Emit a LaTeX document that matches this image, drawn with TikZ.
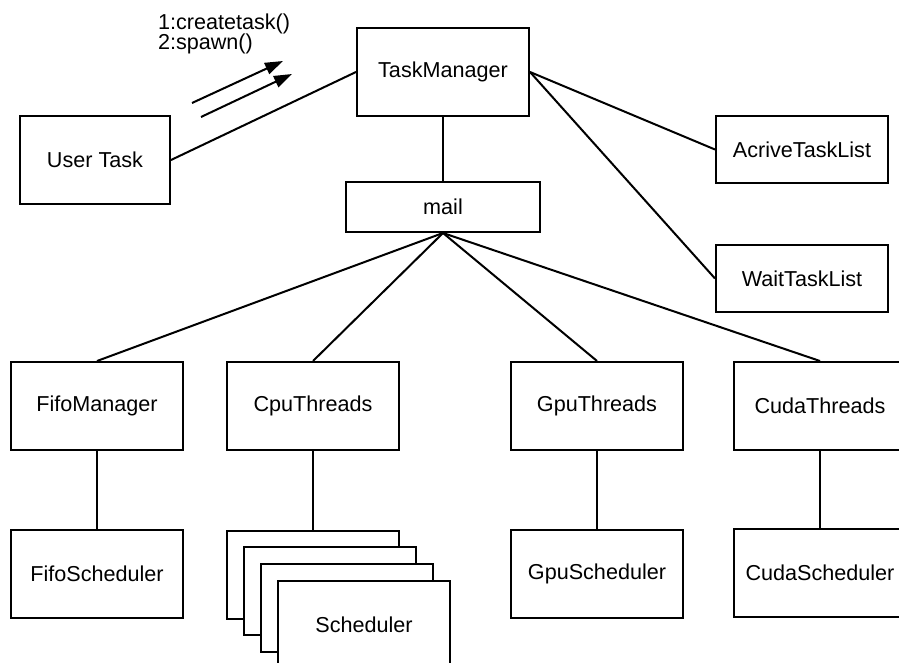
\documentclass[tikz,border=0pt]{standalone}
\usepackage{fontspec}
\setmainfont{Liberation Sans}
\usetikzlibrary{arrows.meta}
\begin{document}
\begin{tikzpicture}[x=0.5pt,y=-0.5pt,line width=1pt]
  \tikzstyle{box}=[draw,rectangle,fill=white,inner sep=0pt,minimum width=86pt,minimum height=44pt,font=\fontsize{10.8}{13}\selectfont]
  \tikzstyle{list}=[box,minimum height=33.5pt]
  \tikzstyle{msg}=[anchor=base west,inner sep=0pt,font=\fontsize{10.8}{13}\selectfont]
  \tikzstyle{call}=[draw,-{Triangle[length=9pt,width=6pt]}]
  \useasboundingbox (0,0) rectangle (899,663);
  \node[box] (TM) at (443,72)  {TaskManager};
  \node[box,minimum width=75pt] (UT) at (95,160) {User Task};
  \node[box,minimum width=97pt,minimum height=25pt] (mail) at (443,207) {mail};
  \node[list] (AT) at (802,149.5) {AcriveTaskList};
  \node[list] (WT) at (802,278.5) {WaitTaskList};
  \node[box] (FM) at (97,406)  {FifoManager};
  \node[box] (CT) at (313,406) {CpuThreads};
  \node[box] (GT) at (597,406) {GpuThreads};
  \node[box] (CU) at (820,406) {CudaThreads};
  \node[box] (FS) at (97,574)  {FifoScheduler};
  \node[box] (GS) at (597,574) {GpuScheduler};
  \node[box] (CS) at (820,573) {CudaScheduler};
  % scheduler stack
  \foreach \i in {0,1,2}
    \node[box] (S\i) at (313+17*\i,574.5+16.8*\i) {};
  \node[box] (S3) at (364,625) {Scheduler};
  % messages
  \node[msg] (m1) at (157,30) {1:createtask()};
  \node[msg] (m2) at (157,50) {2:spawn()};
  \coordinate (a1s) at (192,103);
  \coordinate (a1e) at (283,61);
  \coordinate (a2s) at (201,117);
  \coordinate (a2e) at (292,74);
  \draw[call] (a1s) -- (a1e);
  \draw[call] (a2s) -- (a2e);
  % links
  \draw (UT.east) -- (TM.west);
  \draw (TM.east) -- (AT.west);
  \draw (TM.east) -- (WT.west);
  \draw (TM) -- (mail);
  \foreach \n in {FM,CT,GT,CU}
    \draw (mail.south) -- (\n.north);
  \draw (FM) -- (FS);
  \draw (CT) -- (S0);
  \draw (GT) -- (GS);
  \draw (CU) -- (CS);
\end{tikzpicture}
\end{document}
